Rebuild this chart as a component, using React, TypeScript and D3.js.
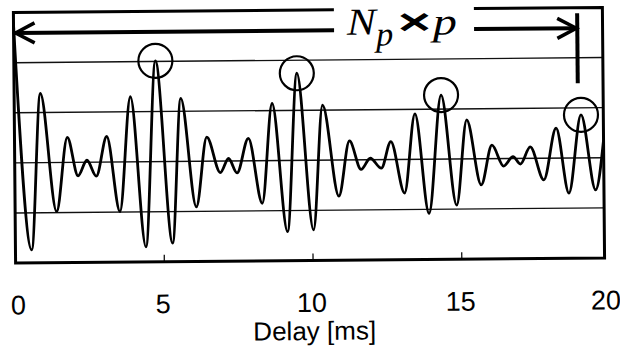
import React, { useEffect, useRef } from 'react';
import * as d3 from 'd3';

// extrema of the correlation curve
const delayMs = [
  0, 0.545, 0.881, 1.395, 1.775, 2.125, 2.428, 2.74, 3.1, 3.524, 3.907, 4.388, 4.758,
  5.286, 5.599, 6.093, 6.463, 6.91, 7.189, 7.471, 7.861, 8.311, 8.668, 9.152, 9.509,
  10.027, 10.363, 10.888, 11.258, 11.641, 11.954, 12.323, 12.649, 13.097, 13.467, 13.914, 14.351,
  14.845, 15.205, 15.676, 16.046, 16.436, 16.752, 16.998, 17.334, 17.781, 18.208, 18.622, 19.049,
  19.52, 19.8,
];
const amplitude = [
  2.75, -1.74, 1.38, -0.98, 0.5, -0.27, 0.04, -0.28, 0.51, -0.99, 1.3, -1.7, 2.01,
  -1.63, 1.26, -0.91, 0.48, -0.23, 0.05, -0.24, 0.45, -0.85, 1.14, -1.42, 1.74,
  -1.39, 1.1, -0.72, 0.38, -0.19, 0.03, -0.17, 0.36, -0.67, 0.91, -1.08, 1.28,
  -0.92, 0.78, -0.52, 0.27, -0.15, 0.04, -0.11, 0.23, -0.43, 0.6, -0.7, 0.86,
  -0.64, 0.35,
];
const xTicks = [0, 5, 10, 15, 20];
const gridLevels = [-1, 0, 1, 2];
const circledDelays = [4.758, 9.509, 14.351, 19.049];
const spanEnd = 18.95; // right end of the Np x p arrow

const DelayChart = () => {
  const ref = useRef<SVGSVGElement | null>(null);

  useEffect(() => {
    const left = 14.5, right = 603.5, top = 10, bottom = 260.5;
    const gapL = 335, gapR = 475; // top border is broken by the label

    const svg = d3.select(ref.current);
    svg.selectAll('*').remove();
    // the scan is tilted a little
    const g = svg.append('g').attr('transform', 'rotate(-0.5 310 137)');

    const x = d3.scaleLinear().domain([0, 19.8]).range([left, right]);
    const y = d3.scaleLinear().domain([-2, 3]).range([bottom, top]);

    g.selectAll('.grid')
      .data(gridLevels)
      .enter()
      .append('line')
      .attr('x1', left)
      .attr('x2', right)
      .attr('y1', d => y(d))
      .attr('y2', d => y(d))
      .attr('stroke', '#111')
      .attr('stroke-width', 1.4);

    g.selectAll('.tick')
      .data(xTicks.slice(1, 4))
      .enter()
      .append('line')
      .attr('x1', d => x(d))
      .attr('x2', d => x(d))
      .attr('y1', bottom)
      .attr('y2', bottom - 7)
      .attr('stroke', '#111')
      .attr('stroke-width', 1.3);

    g.append('path')
      .attr('d', `M${gapL},${top}H${left}V${bottom}H${right}V${top}H${gapR}`)
      .attr('fill', 'none')
      .attr('stroke', '#000')
      .attr('stroke-width', 3);

    const pts: [number, number][] = delayMs.map((d, i) => [d, amplitude[i]]);
    const line = d3.line<[number, number]>()
      .x(d => x(d[0]))
      .y(d => y(d[1]))
      .curve(d3.curveMonotoneX);

    g.append('path')
      .datum(pts)
      .attr('d', line)
      .attr('fill', 'none')
      .attr('stroke', '#000')
      .attr('stroke-width', 2.8)
      .attr('stroke-linejoin', 'round');

    g.selectAll('.peak')
      .data(circledDelays)
      .enter()
      .append('circle')
      .attr('cx', d => x(d))
      .attr('cy', d => y(amplitude[delayMs.indexOf(d)]))
      .attr('r', 17)
      .attr('fill', 'none')
      .attr('stroke', '#000')
      .attr('stroke-width', 2.2);

    // Np x p span arrow
    const ay = 30.5;
    const xEnd = x(spanEnd);
    g.append('path')
      .attr('d', `M${left + 1.5},${ay}H${gapL}M${gapR},${ay}H${xEnd}`)
      .attr('stroke', '#000')
      .attr('stroke-width', 4);
    g.append('path')
      .attr('d', `M${left + 21},${ay - 10}L${left + 2},${ay}L${left + 21},${ay + 10}M${xEnd - 20},${ay - 10}L${xEnd - 1},${ay}L${xEnd - 20},${ay + 10}`)
      .attr('fill', 'none')
      .attr('stroke', '#000')
      .attr('stroke-width', 3.5);
    g.append('line')
      .attr('x1', xEnd)
      .attr('x2', xEnd)
      .attr('y1', 15.5)
      .attr('y2', 85.5)
      .attr('stroke', '#000')
      .attr('stroke-width', 4);

    const serif = '"Liberation Serif", "Times New Roman", serif';
    g.append('text').attr('x', 348).attr('y', 35)
      .attr('font-family', serif).attr('font-style', 'italic').attr('font-size', 38)
      .attr('textLength', 29).attr('lengthAdjust', 'spacingAndGlyphs')
      .text('N');
    g.append('text').attr('x', 377).attr('y', 46)
      .attr('font-family', serif).attr('font-style', 'italic').attr('font-size', 34)
      .text('p');
    g.append('text').attr('x', 399).attr('y', 35)
      .attr('font-family', '"Liberation Sans", Arial, sans-serif').attr('font-weight', 'bold')
      .attr('font-size', 36).attr('textLength', 33).attr('lengthAdjust', 'spacingAndGlyphs')
      .text('×');
    g.append('text').attr('x', 434).attr('y', 35.5)
      .attr('font-family', serif).attr('font-style', 'italic').attr('font-size', 38)
      .attr('textLength', 24).attr('lengthAdjust', 'spacingAndGlyphs')
      .text('p');

    const sans = '"Liberation Sans", Arial, sans-serif';
    g.selectAll('.tick-label')
      .data(xTicks)
      .enter()
      .append('text')
      .attr('x', d => x(d) + (d === 0 ? 2.5 : d === 20 ? -5 : -1.5))
      .attr('y', 312)
      .attr('text-anchor', 'middle')
      .attr('font-family', sans)
      .attr('font-size', 27)
      .text(d => d);

    g.append('text')
      .attr('x', 313)
      .attr('y', 340)
      .attr('text-anchor', 'middle')
      .attr('font-family', sans)
      .attr('font-size', 26)
      .text('Delay [ms]');
  }, []);

  return (
    <svg
      ref={ref}
      width={620}
      height={349}
      style={{ position: 'absolute', left: 0, top: 0, background: '#fff' }}
    />
  );
};

export default function App() {
  return <DelayChart />;
}
